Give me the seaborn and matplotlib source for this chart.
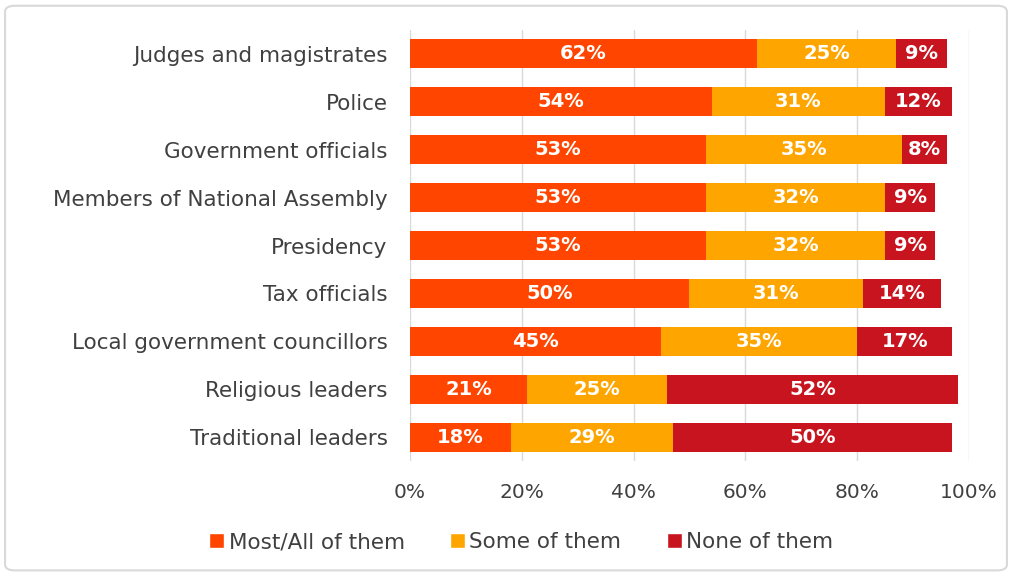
import matplotlib
matplotlib.use("Agg")
import matplotlib.pyplot as plt
import seaborn as sns
import pandas as pd
import numpy as np
from matplotlib.patches import FancyBboxPatch, Patch

categories = ["Judges and magistrates", "Police", "Government officials",
              "Members of National Assembly", "Presidency", "Tax officials",
              "Local government councillors", "Religious leaders", "Traditional leaders"]
most_all = [62, 54, 53, 53, 53, 50, 45, 21, 18]
some = [25, 31, 35, 32, 32, 31, 35, 25, 29]
none = [9, 12, 8, 9, 9, 14, 17, 52, 50]
series_names = ["Most/All of them", "Some of them", "None of them"]
colors = ["#FF4500", "#FFA500", "#C8141E"]
xticks = [0, 20, 40, 60, 80, 100]
xticklabels = ["0%", "20%", "40%", "60%", "80%", "100%"]

sns.set_theme(style="white")
plt.rcParams['font.family'] = ['DejaVu Sans']

df = pd.DataFrame({"category": categories, "most": most_all, "some": some, "none": none})
df["c1"] = df["most"]
df["c2"] = df["most"] + df["some"]
df["c3"] = df["most"] + df["some"] + df["none"]

fig = plt.figure(figsize=(10.12, 5.75), dpi=100)
ax = fig.add_axes([0.405, 0.198, 0.5525, 0.75])

for col, color in zip(["c3", "c2", "c1"], colors[::-1]):
    sns.barplot(data=df, y="category", x=col, color=color, orient="h",
                width=0.6, ax=ax, saturation=1, zorder=3, edgecolor="none")

for i, row in df.iterrows():
    starts = [0, row["c1"], row["c2"]]
    vals = [row["most"], row["some"], row["none"]]
    for s, v in zip(starts, vals):
        ax.text(s + v / 2, i, f"{v}%", ha="center", va="center", color="white",
                fontsize=14, fontweight="bold", zorder=4)

ax.set_xlim(0, 100)
ax.set_xticks(xticks)
ax.set_xticklabels(xticklabels, fontsize=14.5, color="#404040")
ax.tick_params(axis="y", labelsize=15.5, labelcolor="#404040", length=0, pad=16)
ax.tick_params(axis="x", length=0, pad=16)
ax.set_xlabel("")
ax.set_ylabel("")
ax.grid(axis="x", color="#D9D9D9", linewidth=1, zorder=0)
ax.set_axisbelow(True)
for sp in ax.spines.values():
    sp.set_visible(False)

handles = [Patch(facecolor=c, label=n) for c, n in zip(colors, series_names)]
leg = fig.legend(handles=handles, loc="center", bbox_to_anchor=(0.515, 0.057), ncol=3,
                 frameon=False, fontsize=15.5, handlelength=0.7, handleheight=0.7,
                 handletextpad=0.2, columnspacing=2.1)
for t in leg.get_texts():
    t.set_color("#404040")

border = FancyBboxPatch((0.005, 0.008), 0.99, 0.982, boxstyle="round,pad=0,rounding_size=0.01",
                        transform=fig.transFigure, facecolor="none", edgecolor="#D9D9D9",
                        linewidth=1.5, zorder=0)
fig.patches.append(border)

fig.savefig("out.png", dpi=100)
